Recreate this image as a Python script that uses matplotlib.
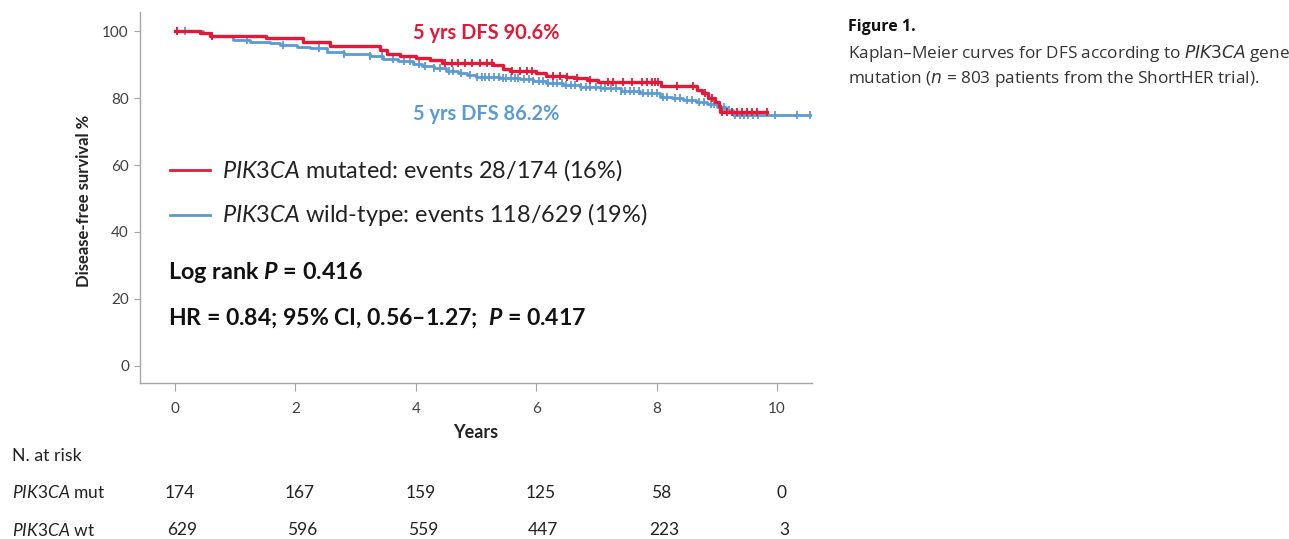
import numpy as np
import matplotlib
matplotlib.use("Agg")
import matplotlib.pyplot as plt
from matplotlib import transforms

plt.rcParams['font.family'] = ['Lato', 'DejaVu Sans']
plt.rcParams['mathtext.fontset'] = 'custom'
plt.rcParams['mathtext.rm'] = 'Lato'
plt.rcParams['mathtext.it'] = 'Lato:italic'
plt.rcParams['mathtext.bf'] = 'Lato:bold'
plt.rcParams['mathtext.bfit'] = 'Lato:italic:bold'

# --- data ---
# PIK3CA mutated: step times (years) and survival (%) after each step
mut_t = [0.42, 0.58, 1.52, 2.13, 2.57, 3.40, 3.52, 3.74, 4.01, 4.24, 4.43,
         5.29, 5.45, 5.56, 6.00, 6.17, 6.50, 6.62, 6.84, 7.03, 8.08, 8.67,
         8.75, 8.86, 8.97, 9.03, 9.05]
mut_s = [99.3, 98.5, 97.8, 96.6, 95.6, 94.3, 93.3, 92.5, 92.0, 91.4, 90.6,
         89.9, 88.7, 88.1, 87.4, 86.7, 86.2, 85.9, 85.4, 84.9, 83.7, 82.4,
         81.4, 79.9, 78.9, 77.7, 75.7]
mut_cens = [0.03, 0.61, 4.49, 4.60, 4.70, 4.82, 4.93, 5.07, 5.18, 5.26,
            5.60, 5.73, 5.85, 5.93, 6.28, 6.40, 6.51, 6.68, 6.90, 7.19, 7.28,
            7.44, 7.59, 7.76, 7.84, 7.92, 7.97, 8.02, 8.34, 8.60, 8.80, 8.92,
            9.09, 9.17, 9.25, 9.34, 9.42, 9.50, 9.58, 9.67, 9.83]

# PIK3CA wild-type
wt_t = [0.47, 0.60, 0.97, 1.25, 1.58, 1.74, 2.02, 2.24, 2.52, 2.80, 3.24,
        3.46, 3.70, 3.96, 4.10, 4.30, 4.51, 4.70, 4.85, 5.00, 5.40, 5.73,
        5.95, 6.17, 6.45, 6.73, 7.06, 7.40, 7.72, 8.06, 8.25, 8.44, 8.65,
        8.83, 9.00, 9.16, 9.27]
wt_s = [99.3, 98.5, 97.3, 96.8, 96.4, 95.8, 95.2, 94.8, 93.8, 93.1, 92.5,
        91.8, 91.0, 90.3, 89.6, 88.9, 88.1, 87.4, 86.8, 86.2, 85.9, 85.6,
        85.0, 84.4, 83.9, 83.4, 82.9, 82.2, 81.4, 80.4, 79.9, 79.4, 78.7,
        78.1, 77.4, 76.4, 74.9]
wt_cens = [0.03, 0.17, 0.61, 1.20, 1.80, 2.40, 2.80, 3.24, 3.44, 3.62, 3.80,
           3.90, 4.05, 4.15, 4.30, 4.40, 4.55, 4.62, 4.75, 4.90, 5.02, 5.10,
           5.15, 5.22, 5.30, 5.38, 5.45, 5.50, 5.58, 5.65, 5.70, 5.80, 5.88,
           5.95, 6.05, 6.12, 6.20, 6.28, 6.35, 6.42, 6.50, 6.58, 6.65, 6.75,
           6.82, 6.90, 7.00, 7.08, 7.15, 7.25, 7.32, 7.40, 7.48, 7.55, 7.62,
           7.70, 7.78, 7.85, 7.92, 8.00, 8.10, 8.18, 8.30, 8.38, 8.50, 8.58,
           8.70, 8.78, 8.90, 8.95, 9.05, 9.12, 9.20, 9.30, 9.38, 9.45, 9.52,
           9.60, 9.68, 9.97, 10.33, 10.55]

risk_years = [0, 2, 4, 6, 8, 10]
risk_mut = [174, 167, 159, 125, 58, 0]
risk_wt = [629, 596, 559, 447, 223, 3]

RED = '#E31937'
BLUE = '#5B9BD5'
GREY = '#404040'

fig = plt.figure(figsize=(12.89, 5.39), dpi=100)
W, H = 1289, 539
ax = fig.add_axes([140 / W, 1 - 383 / H, 672 / W, 371 / H])


def km(times, surv, cens, color, lw):
    t = np.r_[0, times, max(cens)]
    s = np.r_[100, surv, surv[-1]]
    ax.step(t, s, where='post', color=color, lw=lw, zorder=3)
    idx = np.searchsorted(times, cens, side='right')
    cy = np.r_[100, surv][idx]
    ax.plot(cens, cy, ls='none', marker='|', ms=6, mew=1.3, color=color,
            zorder=3)


km(wt_t, wt_s, wt_cens, BLUE, 2.0)
km(mut_t, mut_s, mut_cens, RED, 2.4)

ax.set_xlim(-0.58, 10.58)
ax.set_ylim(-5.1, 105.7)
ax.set_xticks(range(0, 11, 2))
ax.set_yticks(range(0, 101, 20))
for sp in ['top', 'right']:
    ax.spines[sp].set_visible(False)
for sp in ['left', 'bottom']:
    ax.spines[sp].set_color('#A6A6A6')
    ax.spines[sp].set_linewidth(1.0)
ax.tick_params(axis='x', direction='out', length=6, width=0.8,
               color='#A6A6A6', pad=8, labelsize=11, labelcolor=GREY)
ax.tick_params(axis='y', direction='out', length=4, width=0.8,
               color='#A6A6A6', pad=4, labelsize=11, labelcolor=GREY)

ax.set_xlabel('Years', fontsize=13, fontweight='bold', color='#222222')
ax.xaxis.set_label_coords(0.5, -0.11)
ax.set_ylabel('Disease-free survival %', fontsize=12, fontweight='bold',
              color='#222222')
ax.yaxis.set_label_coords(-0.072, 0.49)

# 5-year annotations
ax.text(3.95, 99.4, '5 yrs DFS 90.6%', color=RED, fontsize=14.4,
        fontweight='bold', va='center', ha='left')
ax.text(3.95, 75.2, '5 yrs DFS 86.2%', color=BLUE, fontsize=14.4,
        fontweight='bold', va='center', ha='left')

# legend
ax.plot([0.045, 0.104], [0.574, 0.574], color=RED, lw=2,
        transform=ax.transAxes)
ax.plot([0.045, 0.104], [0.453, 0.453], color=BLUE, lw=2,
        transform=ax.transAxes)
ax.text(0.122, 0.574, r'$\mathit{PIK3CA}$ mutated: events 28/174 (16%)',
        transform=ax.transAxes, fontsize=16.9, va='center', color='#222222')
ax.text(0.122, 0.453, r'$\mathit{PIK3CA}$ wild-type: events 118/629 (19%)',
        transform=ax.transAxes, fontsize=16.9, va='center', color='#222222')
ax.text(0.0417, 0.299, r'Log rank $\mathbfit{P}$ = 0.416',
        transform=ax.transAxes, fontsize=16.8, fontweight='bold', va='center',
        color='#111111')
ax.text(0.0417, 0.175,
        r'HR = 0.84; 95% CI, 0.56–1.27;  $\mathbfit{P}$ = 0.417',
        transform=ax.transAxes, fontsize=16.6, fontweight='bold', va='center',
        color='#111111')

# numbers at risk
tr = transforms.blended_transform_factory(ax.transData, fig.transFigure)
fig.text(12 / W, 1 - 456 / H, 'N. at risk', fontsize=12.8, va='center',
         color='#222222')
fig.text(12 / W, 1 - 493 / H, r'$\mathit{PIK3CA}$ mut', fontsize=12.5,
         va='center', color='#222222')
fig.text(12 / W, 1 - 530 / H, r'$\mathit{PIK3CA}$ wt', fontsize=12.5,
         va='center', color='#222222')
for x, a, b in zip(risk_years, risk_mut, risk_wt):
    ax.text(x + 0.08, 1 - 493 / H, str(a), transform=tr, fontsize=12.5,
            ha='center', va='center', color='#222222')
    ax.text(x + 0.12, 1 - 530 / H, str(b), transform=tr, fontsize=12.5,
            ha='center', va='center', color='#222222')

# caption
fig.text(848 / W, 1 - 27 / H, 'Figure 1.', fontsize=11.5, fontweight='bold',
         family='Open Sans', va='center', color='#111111')
fig.text(848 / W, 1 - 54 / H,
         r'Kaplan–Meier curves for DFS according to $\mathit{PIK3CA}$ gene',
         fontsize=12.3, family='Open Sans', va='center', color='#333333',
         math_fontfamily='dejavusans')
fig.text(848 / W, 1 - 79 / H,
         r'mutation ($n$ = 803 patients from the ShortHER trial).',
         fontsize=12.3, family='Open Sans', va='center', color='#333333',
         math_fontfamily='dejavusans')

fig.savefig('out.png', dpi=100)
